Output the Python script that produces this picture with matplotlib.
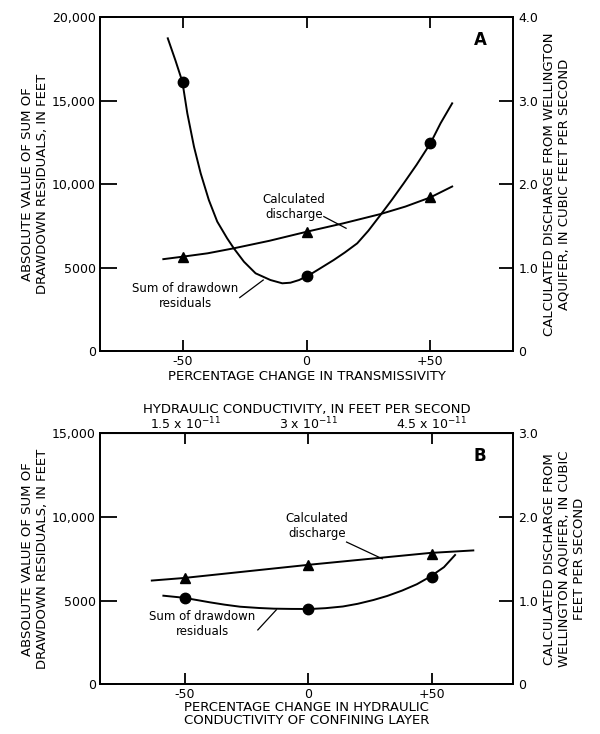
import matplotlib
matplotlib.use('Agg')
import matplotlib.pyplot as plt

# Panel A - transmissivity
a_pts_x = [-50, 0, 50]
a_resid_pts = [16100, 4500, 12450]
a_disch_pts = [1.13, 1.43, 1.84]
# points
a_resid_curve_x = [-56.1, -53, -50.2, -48.2, -45.5, -42.8, -39.5, -36.1, -32.1, -29.4, -25.3,
                   -20.6, -14.6, -9.8, -6.5, -3, 0.9, 5, 11, 15.5, 20.5, 25, 29.9, 34.5, 39.3,
                   44.5, 50.1, 54.2, 58.9]
a_resid_curve_y = [18725, 17400, 16126, 14234, 12234, 10641, 9042, 7750, 6750, 6150, 5347,
                   4653, 4251, 4054, 4090, 4250, 4530, 4900, 5449, 5900, 6447, 7200, 8144, 9050,
                   10042, 11150, 12437, 13635, 14832]
a_disch_curve_x = [-57.9, -50, -40, -29.4, -15, 0.3, 15, 29.9, 40, 50.1, 58.9]
a_disch_curve_y = [1.10, 1.13, 1.17, 1.23, 1.32, 1.43, 1.53, 1.64, 1.73, 1.84, 1.97]

# Panel B - hydraulic conductivity of confining layer
b_pts_x = [-50, 0, 50]
b_resid_pts = [5175, 4500, 6430]
b_disch_pts = [1.27, 1.42, 1.56]
b_resid_curve_x = [-58.8, -50.7, -45, -40, -34, -27.7, -20, -14, -7, 0.7, 7, 14, 20, 26.4,
                   32, 38, 44, 49.4, 55, 59.5]
b_resid_curve_y = [5295, 5175, 5030, 4900, 4760, 4637, 4560, 4520, 4505, 4500, 4550, 4650,
                   4810, 5038, 5280, 5600, 5980, 6430, 7000, 7727]
b_disch_curve_x = [-63.5, -50.7, 0.7, 49.4, 66.9]
b_disch_curve_y = [1.24, 1.27, 1.43, 1.57, 1.60]

top_ticks = [-50, 0, 50]
top_labels = [r'1.5 x 10$^{-11}$', r'3 x 10$^{-11}$', r'4.5 x 10$^{-11}$']

plt.rcParams['font.family'] = ['DejaVu Sans']
plt.rcParams['font.size'] = 9

fig = plt.figure(figsize=(6, 7.34), dpi=100)
axA = fig.add_axes([0.1667, 0.5218, 0.6883, 0.455])
axB = fig.add_axes([0.1667, 0.0677, 0.6883, 0.342])

MS = 7.5


def style_axes(ax, ax2, ymax, yticks, ylabels, r_ticks, r_labels):
    ax.set_ylim(0, ymax)
    ax.set_yticks(yticks)
    ax.set_yticklabels(ylabels)
    ax.set_xticks([-50, 0, 50])
    ax.set_xticklabels(['-50', '0', '+50'])
    ax.tick_params(axis='x', direction='in', length=8, width=1.3, top=True, pad=3)
    ax.tick_params(axis='y', direction='in', length=12, width=1.3, pad=3)
    for s in ax.spines.values():
        s.set_linewidth(1.3)
    ax2.set_ylim(0, r_ticks[-1])
    ax2.set_yticks(r_ticks)
    ax2.set_yticklabels(r_labels)
    ax2.tick_params(axis='y', direction='in', length=10, width=1.3, pad=4)
    for s in ax2.spines.values():
        s.set_linewidth(1.3)


# ---- Panel A ----
axA.set_xlim(-83.5, 83.5)
axA2 = axA.twinx()
style_axes(axA, axA2, 20000, [0, 5000, 10000, 15000, 20000],
           ['0', '5000', '10,000', '15,000', '20,000'],
           [0, 1, 2, 3, 4], ['0', '1.0', '2.0', '3.0', '4.0'])
axA.plot(a_resid_curve_x, a_resid_curve_y, color='black', lw=1.4)
axA.plot(a_pts_x, a_resid_pts, 'o', color='black', ms=MS)
axA2.plot(a_disch_curve_x, a_disch_curve_y, color='black', lw=1.4)
axA2.plot(a_pts_x, a_disch_pts, '^', color='black', ms=MS)
axA.set_xlabel('PERCENTAGE CHANGE IN TRANSMISSIVITY', labelpad=1, fontsize=9.5)
axA.set_ylabel('ABSOLUTE VALUE OF SUM OF\nDRAWDOWN RESIDUALS, IN FEET', labelpad=2,
               fontsize=9.5)
axA2.set_ylabel('CALCULATED DISCHARGE FROM WELLINGTON\nAQUIFER, IN CUBIC FEET PER SECOND',
                labelpad=3, fontsize=9.5)
axA.text(0.92, 0.93, 'A', transform=axA.transAxes, fontsize=12, fontweight='bold',
         ha='center', va='center')
axA.text(-5, 8650, 'Calculated\ndischarge', ha='center', va='center', fontsize=8.5,
         linespacing=1.2)
axA.plot([7, 16], [8050, 7350], color='black', lw=0.9)
axA.text(-49, 3300, 'Sum of drawdown\nresiduals', ha='center', va='center', fontsize=8.5,
         linespacing=1.2)
axA.plot([-27, -17.5], [3200, 4250], color='black', lw=0.9)

# ---- Panel B ----
axB.set_xlim(-84.5, 83)
axB2 = axB.twinx()
style_axes(axB, axB2, 15000, [0, 5000, 10000, 15000],
           ['0', '5000', '10,000', '15,000'],
           [0, 1, 2, 3], ['0', '1.0', '2.0', '3.0'])
axB.plot(b_resid_curve_x, b_resid_curve_y, color='black', lw=1.4)
axB.plot(b_pts_x, b_resid_pts, 'o', color='black', ms=MS)
axB2.plot(b_disch_curve_x, b_disch_curve_y, color='black', lw=1.4)
axB2.plot(b_pts_x, b_disch_pts, '^', color='black', ms=MS)
axB.set_xlabel('PERCENTAGE CHANGE IN HYDRAULIC\nCONDUCTIVITY OF CONFINING LAYER',
               labelpad=0, linespacing=1.0, fontsize=9.5)
axB.set_ylabel('ABSOLUTE VALUE OF SUM OF\nDRAWDOWN RESIDUALS, IN FEET', labelpad=2,
               fontsize=9.5)
axB2.set_ylabel('CALCULATED DISCHARGE FROM\nWELLINGTON AQUIFER, IN CUBIC\nFEET PER SECOND',
                labelpad=3, fontsize=9.5)
axB.text(0.92, 0.91, 'B', transform=axB.transAxes, fontsize=12, fontweight='bold',
         ha='center', va='center')
axB.text(3.5, 9450, 'Calculated\ndischarge', ha='center', va='center', fontsize=8.5,
         linespacing=1.2)
axB.plot([15.5, 30], [8500, 7500], color='black', lw=0.9)
axB.text(-43, 3600, 'Sum of drawdown\nresiduals', ha='center', va='center', fontsize=8.5,
         linespacing=1.2)
axB.plot([-20.5, -13], [3250, 4450], color='black', lw=0.9)

axB_top = axB.secondary_xaxis('top')
axB_top.set_xticks(top_ticks)
axB_top.set_xticklabels(top_labels)
axB_top.tick_params(direction='in', length=0, pad=1)
axB_top.set_xlabel('HYDRAULIC CONDUCTIVITY, IN FEET PER SECOND', labelpad=2, fontsize=9.5)

fig.savefig('out.png', dpi=100)
